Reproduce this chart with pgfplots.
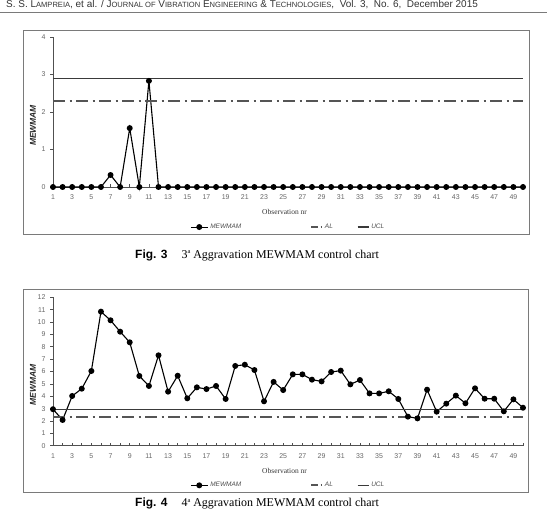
\documentclass[border=0pt]{standalone}
\usepackage{fontspec}
\setmainfont{Liberation Sans}
\newfontfamily\timesf{Liberation Serif}
\usepackage{pgfplots}
\pgfplotsset{compat=1.18}
\usepackage{pgfplotstable}
\definecolor{tickgray}{HTML}{666666}
\definecolor{axgray}{HTML}{505050}
\definecolor{framegray}{HTML}{7A7A7A}
\definecolor{algray}{HTML}{555555}
\definecolor{uclgray}{HTML}{3A3A3A}
\newcommand\fsc[1]{{\fontsize{7.6}{8}\selectfont #1}}

\pgfplotstableread{
x y
1 0
2 0
3 0
4 0
5 0
6 0
7 0.32
8 0
9 1.57
10 0
11 2.83
12 0
13 0
14 0
15 0
16 0
17 0
18 0
19 0
20 0
21 0
22 0
23 0
24 0
25 0
26 0
27 0
28 0
29 0
30 0
31 0
32 0
33 0
34 0
35 0
36 0
37 0
38 0
39 0
40 0
41 0
42 0
43 0
44 0
45 0
46 0
47 0
48 0
49 0
50 0
}\dataA

\pgfplotstableread{
x y
1 2.95
2 2.08
3 4.02
4 4.61
5 6.04
6 10.84
7 10.14
8 9.22
9 8.36
10 5.64
11 4.83
12 7.31
13 4.37
14 5.66
15 3.83
16 4.72
17 4.58
18 4.83
19 3.78
20 6.45
21 6.55
22 6.12
23 3.59
24 5.16
25 4.50
26 5.77
27 5.77
28 5.34
29 5.20
30 5.96
31 6.07
32 4.96
33 5.31
34 4.23
35 4.23
36 4.40
37 3.78
38 2.35
39 2.21
40 4.53
41 2.75
42 3.40
43 4.05
44 3.43
45 4.64
46 3.80
47 3.80
48 2.78
49 3.75
50 3.07
}\dataB

\pgfplotsset{
  mewstyle/.style={
    scale only axis, width=470bp, xmin=1, xmax=50,
    axis lines*=left,
    axis line style={draw=axgray, line width=0.8bp},
    xtick={1,3,...,49}, minor xtick={2,4,...,50},
    xtick align=inside, ytick align=outside,
    major tick length=3bp, minor tick length=3bp,
    tick style={draw=axgray, line width=0.6bp},
    tick label style={font=\fontsize{7}{8}\selectfont, text=tickgray},
    xticklabel style={yshift=-4.5bp},
    yticklabel style={xshift=-1bp},
    /pgf/number format/assume math mode=true,
    clip=false,
    ylabel={MEWMAM},
    ylabel style={font=\fontsize{8.5}{9}\selectfont\bfseries\itshape, text=black!85,
      at={(rel axis cs:-0.04255,0.41)}, anchor=center},
    xlabel={Observation nr},
    xlabel style={font=\timesf\fontsize{7.5}{8}\selectfont, text=black!80,
      at={(rel axis cs:0.4926,0)}, anchor=center, yshift=-25bp},
    legend style={at={(rel axis cs:0.2915,-0.267)}, anchor=west, draw=none, fill=none,
      legend columns=3, font=\fontsize{6.5}{7}\selectfont\itshape, text=black!70,
      inner sep=0pt, /tikz/every even column/.append style={column sep=0pt}},
    legend cell align=left,
  },
  mewline/.style={black, line width=1.1bp, mark=*, mark size=2.4bp, mark options={solid, fill=black}},
  alline/.style={algray, line width=1.7bp, dash pattern=on 12bp off 4.5bp on 2bp off 4.5bp,
    legend image code/.code={\draw[##1, dash pattern=on 7bp off 2.5bp on 1.5bp off 2bp] (0bp,0bp) -- (11bp,0bp);}},
  uclline/.style={uclgray, line width=1.3bp,
    legend image code/.code={\draw[##1] (0bp,0bp) -- (11bp,0bp);}},
}

\begin{document}
\begin{tikzpicture}
\useasboundingbox (0,0) rectangle (547bp,-517bp);
% header
\node[anchor=base west, inner sep=0, text=black!80] at (6bp,-7.4bp) {\fontsize{10}{12}\selectfont S. S. L\fsc{AMPREIA}, et al. / J\fsc{OURNAL OF} V\fsc{IBRATION} E\fsc{NGINEERING} \& T\fsc{ECHNOLOGIES},\ \ Vol. 3,\ \ No. 6,\ \ December 2015};
\draw[framegray, line width=1.2bp] (0bp,-12.5bp) -- (547bp,-12.5bp);
% frames
\draw[framegray, line width=0.9bp] (23bp,-30bp) rectangle (529bp,-234bp);
\draw[framegray, line width=0.9bp] (23bp,-289bp) rectangle (528bp,-492bp);

\begin{axis}[mewstyle, at={(53bp,-187bp)}, anchor=south west, height=150bp, ymin=0, ymax=4, ytick={0,1,2,3,4}]
\addplot[mewline] table[x=x,y=y] {\dataA};
\addlegendentry{\makebox[98bp][l]{MEWMAM}}
\addplot[alline] coordinates {(1,2.3) (50,2.3)};
\addlegendentry{\makebox[30bp][l]{AL}}
\addplot[uclline] coordinates {(1,2.9) (50,2.9)};
\addlegendentry{UCL}
\end{axis}

\begin{axis}[mewstyle, at={(53bp,-445.7bp)}, anchor=south west, height=148.4bp, ymin=0, ymax=12, ytick={0,1,...,12}]
\addplot[mewline] table[x=x,y=y] {\dataB};
\addlegendentry{\makebox[98bp][l]{MEWMAM}}
\addplot[alline] coordinates {(1,2.3) (50,2.3)};
\addlegendentry{\makebox[30bp][l]{AL}}
\addplot[uclline] coordinates {(1,2.9) (50,2.9)};
\addlegendentry{UCL}
\end{axis}

% captions
\node[anchor=base west, inner sep=0] at (135bp,-258bp) {\fontsize{12}{14}\selectfont\bfseries Fig. 3\hspace{14bp}\mdseries\timesf 3\raisebox{4.5bp}{\fontsize{6.5}{7}\selectfont a} Aggravation MEWMAM control chart};
\node[anchor=base west, inner sep=0] at (135bp,-506.5bp) {\fontsize{12}{14}\selectfont\bfseries Fig. 4\hspace{14bp}\mdseries\timesf 4\raisebox{4.5bp}{\fontsize{6.5}{7}\selectfont a} Aggravation MEWMAM control chart};
\end{tikzpicture}
\end{document}
